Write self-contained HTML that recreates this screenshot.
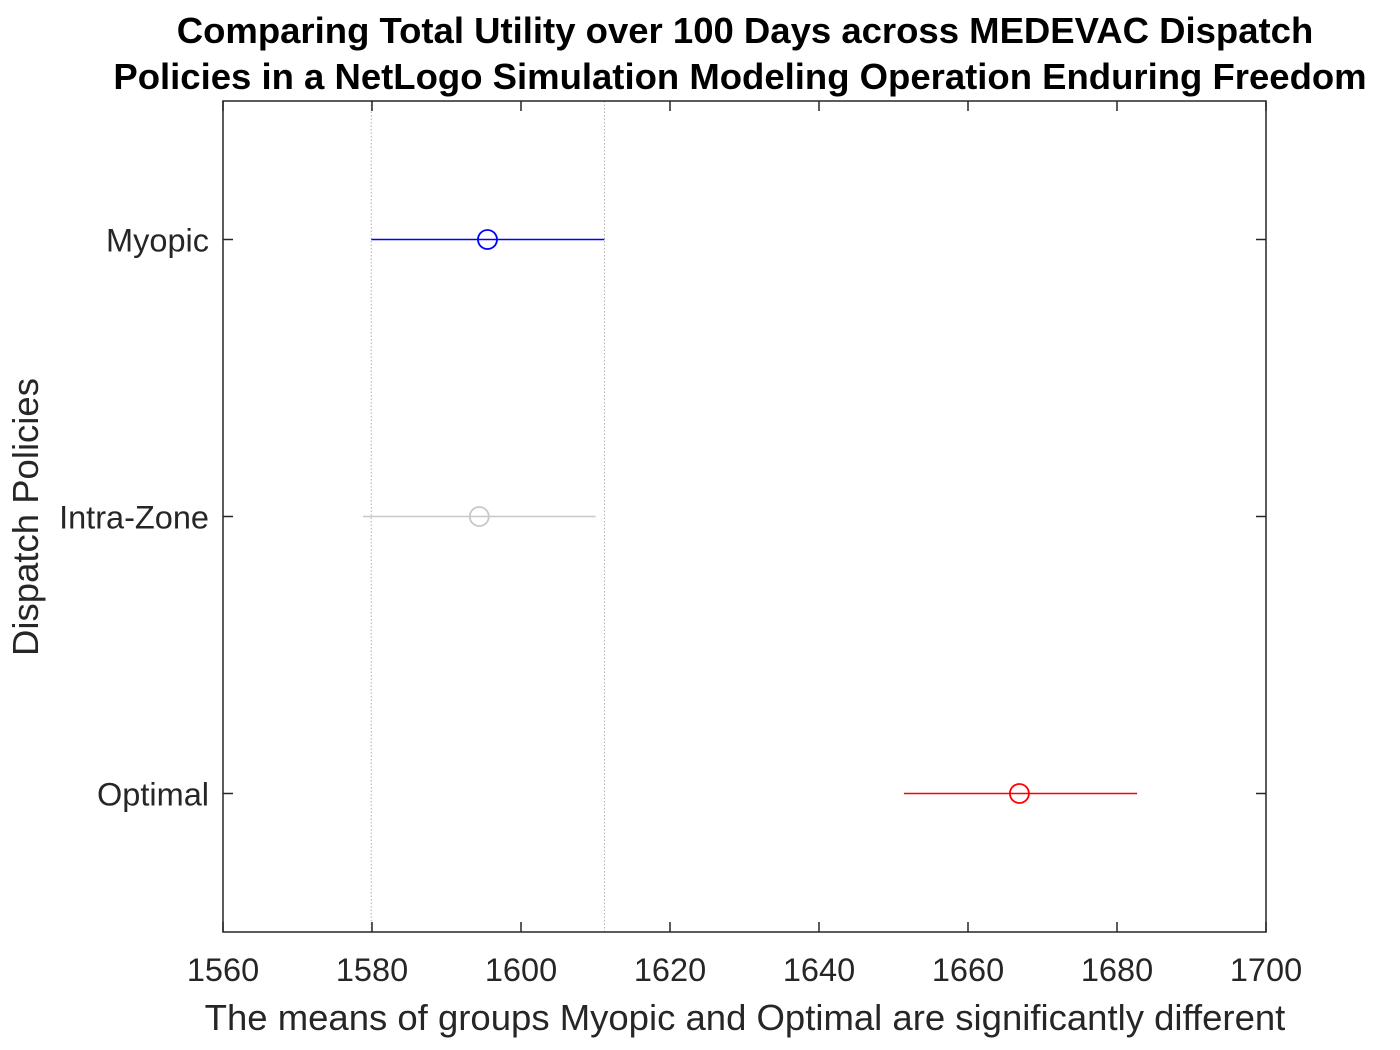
<!DOCTYPE html>
<html><head><meta charset="utf-8"><style>
body{margin:0;background:#fff;}
svg{display:block;font-family:"Liberation Sans",Arial,sans-serif;}
</style></head><body>
<svg id="chart" width="1400" height="1050"></svg>
<script>
const categories=["Myopic","Intra-Zone","Optimal"];
const means=[1595.5,1594.4,1666.9];
const lowers=[1579.9,1578.8,1651.4];
const uppers=[1611.2,1610.0,1682.7];
const colors=["#0000ff","#c8c8c8","#ff0000"];
const xTicks=[1560,1580,1600,1620,1640,1660,1680,1700];
const refLow=lowers[0], refHigh=uppers[0];

const L=223,R=1266,T=101,B=932;
const xMin=1560,xMax=1700,yMin=0.5,yMax=3.5;
const sx=v=>L+(v-xMin)/(xMax-xMin)*(R-L);
const sy=i=>T+((i+1)-yMin)/(yMax-yMin)*(B-T);
const svg=document.getElementById('chart');
const NS='http://www.w3.org/2000/svg';
function mk(tag,attrs,parent){const e=document.createElementNS(NS,tag);for(const k in attrs)e.setAttribute(k,attrs[k]);(parent||svg).appendChild(e);return e;}

let t=mk('text',{x:745,y:43,'text-anchor':'middle','font-size':36.5,'font-weight':'bold',fill:'#000'});
t.textContent='Comparing Total Utility over 100 Days across MEDEVAC Dispatch';


t=mk('text',{x:740,y:89,'text-anchor':'middle','font-size':36.5,'font-weight':'bold',fill:'#000'});
t.textContent='Policies in a NetLogo Simulation Modeling Operation Enduring Freedom';



[refLow,refHigh].forEach((v,i)=>{
 const l=mk('line',{x1:sx(v),x2:sx(v),y1:T,y2:B,stroke:'#b0b0b0','stroke-width':1,'stroke-dasharray':'1.5,2'});
 
 
});

const box=mk('rect',{x:L,y:T,width:R-L,height:B-T,fill:'none',stroke:'#262626','stroke-width':1.5});



xTicks.forEach(v=>{
 const x=sx(v);
 mk('line',{x1:x,x2:x,y1:B,y2:B-10,stroke:'#262626','stroke-width':1.5});
 mk('line',{x1:x,x2:x,y1:T,y2:T+10,stroke:'#262626','stroke-width':1.5});
 const lb=mk('text',{x:x,y:981,'text-anchor':'middle','font-size':32.5,fill:'#262626'});
 lb.textContent=v;
 
 
});

categories.forEach((c,i)=>{
 const y=sy(i);
 mk('line',{x1:L,x2:L+10,y1:y,y2:y,stroke:'#262626','stroke-width':1.5});
 mk('line',{x1:R,x2:R-10,y1:y,y2:y,stroke:'#262626','stroke-width':1.5});
 const lb=mk('text',{x:209,y:y+12,'text-anchor':'end','font-size':32.5,fill:'#262626'});
 lb.textContent=c;
 
 
 const ln=mk('line',{x1:sx(lowers[i]),x2:sx(uppers[i]),y1:y,y2:y,stroke:colors[i],'stroke-width':1.5});
 
 
 const ci=mk('circle',{cx:sx(means[i]),cy:y,r:9.5,fill:'none',stroke:colors[i],'stroke-width':1.8});
 
 
});

t=mk('text',{x:745,y:1030,'text-anchor':'middle','font-size':36.5,fill:'#262626'});
t.textContent='The means of groups Myopic and Optimal are significantly different';


t=mk('text',{x:0,y:0,'text-anchor':'middle','font-size':36.5,fill:'#262626',transform:'translate(38,517) rotate(-90)'});
t.textContent='Dispatch Policies';


</script>
</body></html>
